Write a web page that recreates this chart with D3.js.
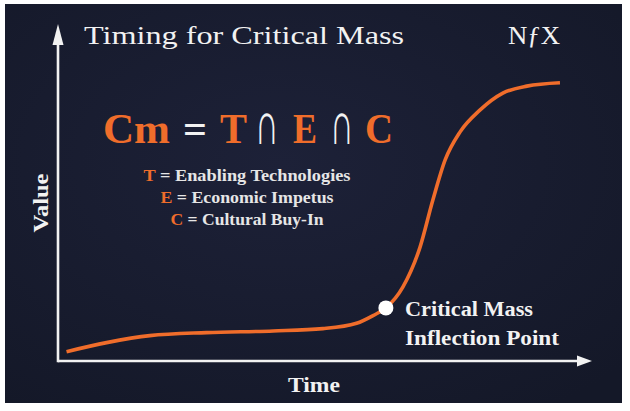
<!DOCTYPE html>
<html>
<head>
<meta charset="utf-8">
<script src="https://cdn.jsdelivr.net/npm/d3@7"></script>
<style>
html,body{margin:0;padding:0;background:#fff;}
svg{display:block;}
text{font-family:"Liberation Serif","DejaVu Serif",serif;}
</style>
</head>
<body>
<svg id="chart" width="630" height="411"></svg>
<script>
// ---- data ----
const timeValues  = [1.6, 9.1, 17.2, 27.8, 40.3, 49.6, 55.9, 59.0, 61.4, 64.6, 67.8, 70.2, 72.5, 75.3, 79.0, 83.3, 87.8, 94.0];
const valueValues = [2.8, 5.5, 7.6, 8.5, 9.0, 9.7, 11.3, 13.6, 15.9, 22.2, 34.1, 48.2, 60.2, 68.6, 75.1, 80.2, 82.3, 83.3];
const inflectionPoint = [61.4, 15.9];
const titleText = "Timing for Critical Mass";
const logoText = "NƒX";
const xLabel = "Time";
const yLabel = "Value";
const formulaParts = ["Cm", "=", "T", "∩", "E", "∩", "C"];
const legendKeys = ["T", "E", "C"];
const legendDefs = ["Enabling Technologies", "Economic Impetus", "Cultural Buy-In"];
const annotationLines = ["Critical Mass", "Inflection Point"];

// ---- drawing ----
const svg = d3.select("#chart");
const ORANGE = "#f06d2b", WHITE = "#f2f2f2";

const defs = svg.append("defs");
const grad = defs.append("radialGradient").attr("id", "bg").attr("cx", "45%").attr("cy", "40%").attr("r", "75%");
grad.append("stop").attr("offset", "0%").attr("stop-color", "#1d2138");
grad.append("stop").attr("offset", "100%").attr("stop-color", "#141828");

svg.append("rect").attr("x", 5).attr("y", 4).attr("width", 617).attr("height", 399).attr("fill", "url(#bg)");

const x = d3.scaleLinear().domain([0, 100]).range([58, 592]);
const y = d3.scaleLinear().domain([0, 100]).range([361, 27]);

// axes
const axisG = svg.append("g");
axisG.append("line").attr("x1", x(0)).attr("x2", x(100) - 12).attr("y1", y(0)).attr("y2", y(0))
  .attr("stroke", WHITE).attr("stroke-width", 2.6);
axisG.append("line").attr("x1", x(0)).attr("x2", x(0)).attr("y1", y(0) + 1.3).attr("y2", y(100) + 16)
  .attr("stroke", WHITE).attr("stroke-width", 2.6);
axisG.append("path").attr("d", `M${x(100)},${y(0)} L${x(100) - 15},${y(0) - 5.5} L${x(100) - 15},${y(0) + 5.5} Z`).attr("fill", WHITE);
axisG.append("path").attr("d", `M${x(0)},${y(100) - 3} L${x(0) - 5.5},${y(100) + 18} L${x(0) + 5.5},${y(100) + 18} Z`).attr("fill", WHITE);

// curve
const pts = timeValues.map((t, i) => [t, valueValues[i]]);
const line = d3.line().x(d => x(d[0])).y(d => y(d[1])).curve(d3.curveMonotoneX);
svg.append("path").attr("d", line(pts)).attr("fill", "none").attr("stroke", ORANGE)
  .attr("stroke-width", 3.6).attr("stroke-linecap", "butt");

svg.append("circle").attr("cx", x(inflectionPoint[0])).attr("cy", y(inflectionPoint[1])).attr("r", 7.5).attr("fill", "#ffffff");

// title & logo
svg.append("text").attr("x", 84).attr("y", 44).attr("fill", WHITE).attr("font-size", 25)
  .attr("font-family", "DejaVu Serif")
  .attr("textLength", 320).attr("lengthAdjust", "spacingAndGlyphs").text(titleText);
svg.append("text").attr("x", 508).attr("y", 44).attr("fill", WHITE).attr("font-size", 26)
  .attr("font-family", "DejaVu Serif")
  .attr("textLength", 52).attr("lengthAdjust", "spacingAndGlyphs").text(logoText);

// formula: each part placed in its own slot
const formulaX = [103, 183, 220, 255, 293, 330, 365];
const formulaW = [67, 24, 27, 24, 24, 24, 28];
formulaParts.forEach((s, i) => {
  const isOp = s === "∩";
  const isOrange = !(s === "=" || isOp);
  const t = svg.append("text")
    .attr("fill", isOrange ? ORANGE : WHITE)
    .attr("font-weight", isOp ? "normal" : "bold")
    .attr("font-family", isOp ? "DejaVu Sans" : null)
    .attr("textLength", formulaW[i]).attr("lengthAdjust", "spacingAndGlyphs")
    .text(s);
  if (isOp) {
    t.attr("transform", `translate(${formulaX[i]},144) scale(1,1.45)`).attr("font-size", 42);
  } else {
    t.attr("x", formulaX[i]).attr("y", 143).attr("font-size", 43);
  }
});

// legend
const legendBaselines = [181, 203, 225];
const legendWidths = [207, 173, 153];
legendKeys.forEach((k, i) => {
  const t = svg.append("text").attr("x", 247).attr("y", legendBaselines[i]).attr("text-anchor", "middle")
    .attr("font-size", 16.5).attr("font-weight", "bold")
    .attr("textLength", legendWidths[i]).attr("lengthAdjust", "spacingAndGlyphs");
  t.append("tspan").attr("fill", ORANGE).text(k);
  t.append("tspan").attr("fill", "#e6e6e6").text(" = " + legendDefs[i]);
});

// annotation
const annWidths = [128, 154];
annotationLines.forEach((s, i) => {
  svg.append("text").attr("x", 405).attr("y", 316 + i * 29).attr("fill", WHITE)
    .attr("font-size", 20).attr("font-weight", "bold")
    .attr("textLength", annWidths[i]).attr("lengthAdjust", "spacingAndGlyphs").text(s);
});

// axis labels
svg.append("text").attr("x", 314).attr("y", 392).attr("text-anchor", "middle").attr("fill", WHITE)
  .attr("font-size", 21).attr("font-weight", "bold").attr("textLength", 52).attr("lengthAdjust", "spacingAndGlyphs").text(xLabel);
svg.append("text").attr("transform", "translate(41,203) rotate(-90)").attr("text-anchor", "middle")
  .attr("dy", "0.35em").attr("fill", WHITE).attr("font-size", 21).attr("font-weight", "bold")
  .attr("textLength", 59).attr("lengthAdjust", "spacingAndGlyphs").text(yLabel);
</script>
</body>
</html>
